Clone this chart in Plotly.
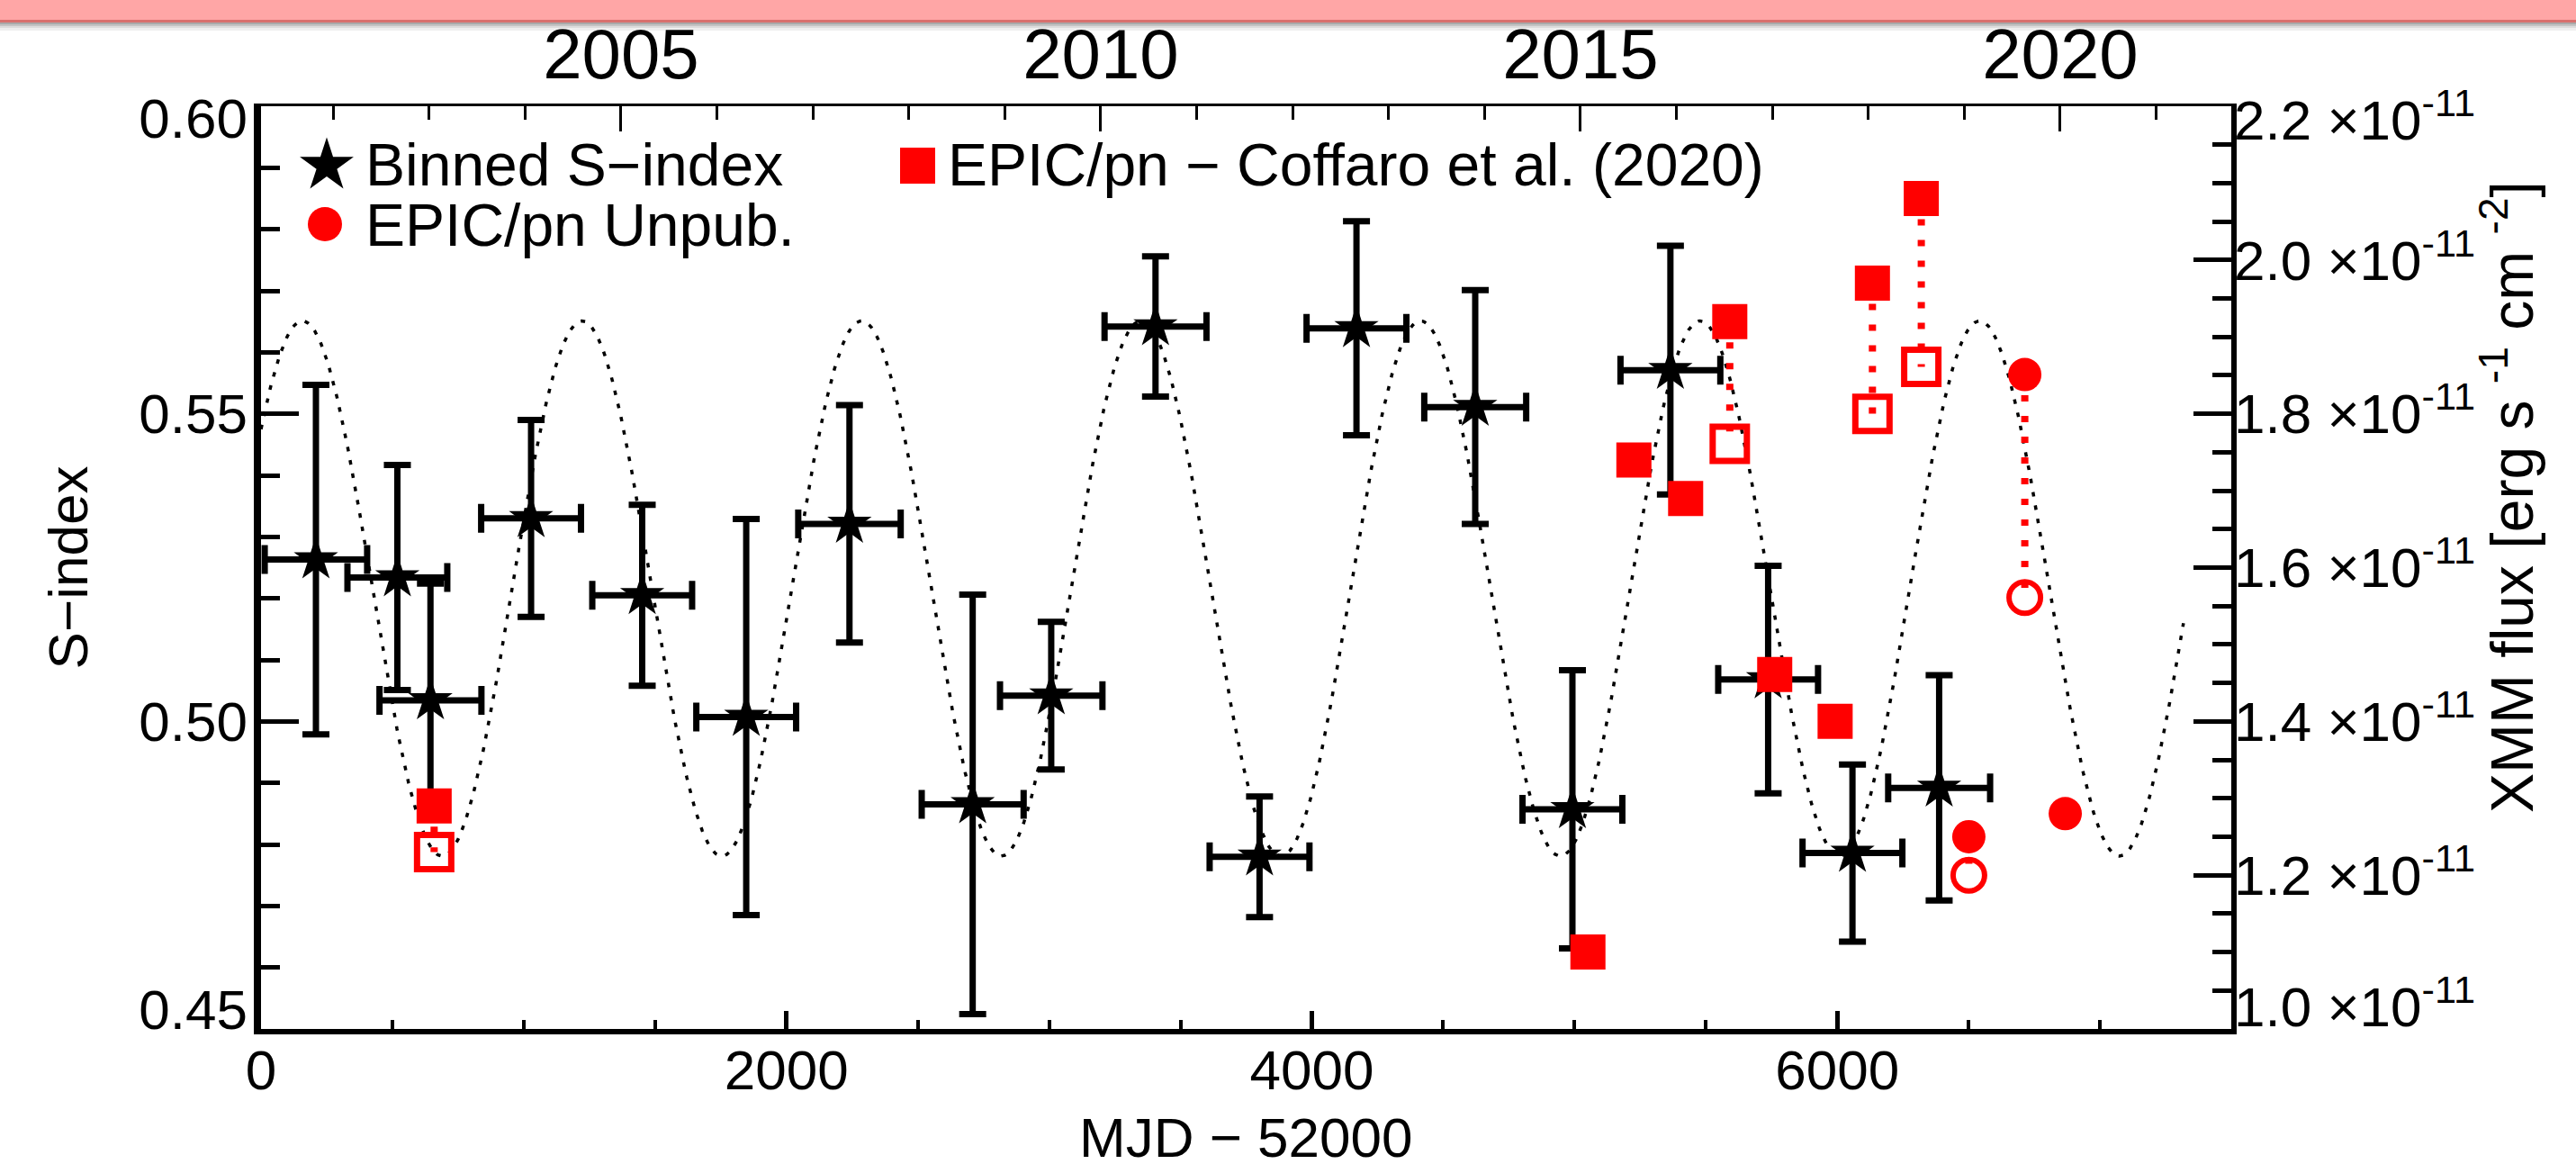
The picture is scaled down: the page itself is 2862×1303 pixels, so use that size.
import numpy as np
import plotly.graph_objects as go

# ---------------- data ----------------
# Binned S-index (left axis), x = MJD - 52000
mjd_bin = [209, 519, 645, 1028, 1451, 1847, 2240, 2709, 3008, 3405, 3801, 4170, 4622, 4992, 5365, 5737, 6058, 6388]
mjd_bin_err = [195, 190, 194, 190, 190, 190, 195, 194, 195, 194, 190, 190, 194, 190, 190, 190, 190, 194]
s_bin = [0.5263, 0.5234, 0.5034, 0.5330, 0.5205, 0.5007, 0.5321, 0.4865, 0.5042, 0.5642,
         0.4780, 0.5639, 0.5511, 0.4857, 0.5571, 0.5068, 0.4786, 0.4892]
s_bin_err = [0.0284, 0.0183, 0.0190, 0.0160, 0.0147, 0.0322, 0.0193, 0.0341, 0.0120, 0.0114,
             0.0098, 0.0174, 0.0190, 0.0226, 0.0202, 0.0185, 0.0144, 0.0183]

# EPIC/pn - Coffaro et al. (2020) (right axis, erg s^-1 cm^-2)
mjd_cof = [659, 5051, 5226, 5423, 5591, 5762, 5992, 6134, 6320]
flux_cof = [1.290e-11, 1.100e-11, 1.740e-11, 1.690e-11, 1.920e-11, 1.461e-11, 1.400e-11, 1.970e-11, 2.080e-11]
mjd_cof_open = [659, 5591, 6134, 6320]
flux_cof_open = [1.230e-11, 1.761e-11, 1.800e-11, 1.861e-11]

# EPIC/pn unpublished
mjd_unp = [6501, 6714, 6868]
flux_unp = [1.250e-11, 1.851e-11, 1.280e-11]
mjd_unp_open = [6501, 6714]
flux_unp_open = [1.200e-11, 1.561e-11]

# dotted cycle model drawn in the figure (parameters)
cyc_period = 1064.0
cyc_peak = 158.0
cyc_mean = 0.5216
cyc_amp = 0.0435
cyc_start, cyc_end = 0.0, 7318.0

# axis ticks and tick labels (end labels sit slightly inside, as in the original)
y_tickvals = [0.45, 0.50, 0.55, 0.60]
y_labelvals = [0.4532, 0.50, 0.55, 0.5980]
y_ticktext = ["0.45", "0.50", "0.55", "0.60"]
y2_tickvals = [1.0e-11, 1.2e-11, 1.4e-11, 1.6e-11, 1.8e-11, 2.0e-11, 2.2e-11]
y2_labelvals = [1.029e-11, 1.2e-11, 1.4e-11, 1.6e-11, 1.8e-11, 2.0e-11, 2.182e-11]
y2_ticktext = ["1.0 ×10<sup>-11</sup>", "1.2 ×10<sup>-11</sup>", "1.4 ×10<sup>-11</sup>",
               "1.6 ×10<sup>-11</sup>", "1.8 ×10<sup>-11</sup>", "2.0 ×10<sup>-11</sup>",
               "2.2 ×10<sup>-11</sup>"]
x_range = [0, 7500]
mjd_2000 = 51544 - 52000  # 2000-01-01 in MJD-52000
year_range = [2000 + (x_range[0] - mjd_2000) / 365.25, 2000 + (x_range[1] - mjd_2000) / 365.25]

# ---------------- geometry ----------------
W, H = 2862, 1303
L, R, T, B = 290, 383, 118, 160
PW, PH = W - L - R, H - T - B
FONT = "Liberation Sans, Arial, sans-serif"


def px2paper_x(px):
    return (px - L) / PW


def px2paper_y(py):
    return (H - B - py) / PH


RED = "#ff0000"

fig = go.Figure()

# dotted cycle curve
tc = np.linspace(cyc_start, cyc_end, 1500)
sc = cyc_mean + cyc_amp * np.cos(2 * np.pi * (tc - cyc_peak) / cyc_period)
fig.add_trace(go.Scatter(x=tc, y=sc, mode="lines", line=dict(color="black", width=3.5, dash="5px,10px"),
                         hoverinfo="skip", name="cycle"))

# binned S-index
fig.add_trace(go.Scatter(
    x=mjd_bin, y=s_bin, mode="markers", name="Binned S−index",
    marker=dict(symbol="star", size=37, color="black", line=dict(width=0)),
    error_x=dict(type="data", array=mjd_bin_err, visible=True, color="black", thickness=7, width=16),
    error_y=dict(type="data", array=s_bin_err, visible=True, color="black", thickness=7, width=15),
))

# connectors (dotted red) between filled and open points
cof_map = dict(zip(mjd_cof, flux_cof))
unp_map = dict(zip(mjd_unp, flux_unp))
cx, cy = [], []
for m, f in zip(mjd_cof_open, flux_cof_open):
    cx += [m, m, None]
    cy += [cof_map[m], f, None]
for m, f in zip(mjd_unp_open, flux_unp_open):
    cx += [m, m, None]
    cy += [unp_map[m], f, None]
fig.add_trace(go.Scatter(x=cx, y=cy, yaxis="y2", mode="lines", line=dict(color=RED, width=8, dash="7px,16px"),
                         hoverinfo="skip", name="link"))

fig.add_trace(go.Scatter(x=mjd_cof_open, y=flux_cof_open, yaxis="y2", mode="markers", name="Coffaro (open)",
                         marker=dict(symbol="square-open", size=38, color=RED, line=dict(width=7, color=RED))))
fig.add_trace(go.Scatter(x=mjd_unp_open, y=flux_unp_open, yaxis="y2", mode="markers", name="Unpub. (open)",
                         marker=dict(symbol="circle-open", size=35, color=RED, line=dict(width=6, color=RED))))
fig.add_trace(go.Scatter(x=mjd_cof, y=flux_cof, yaxis="y2", mode="markers", name="EPIC/pn − Coffaro et al. (2020)",
                         marker=dict(symbol="square", size=39, color=RED, line=dict(width=0))))
fig.add_trace(go.Scatter(x=mjd_unp, y=flux_unp, yaxis="y2", mode="markers", name="EPIC/pn Unpub.",
                         marker=dict(symbol="circle", size=37, color=RED, line=dict(width=0))))
# register the top (calendar-year) axis and the two tick-label axes
fig.add_trace(go.Scatter(x=[], y=[], xaxis="x2", yaxis="y", mode="markers", hoverinfo="skip", name="years"))
fig.add_trace(go.Scatter(x=[], y=[], xaxis="x", yaxis="y3", mode="markers", hoverinfo="skip", name="ylab"))
fig.add_trace(go.Scatter(x=[], y=[], xaxis="x", yaxis="y4", mode="markers", hoverinfo="skip", name="y2lab"))

tf = dict(family=FONT, size=62, color="black")
axcommon = dict(showgrid=False, zeroline=False, showline=True, linecolor="black", ticks="inside",
                tickcolor="black", tickfont=tf)
labaxis = dict(showgrid=False, zeroline=False, showline=False, ticks="", tickfont=tf, tickmode="array")

fig.update_layout(
    width=W, height=H,
    margin=dict(l=L, r=R, t=T, b=B, autoexpand=False),
    paper_bgcolor="white", plot_bgcolor="white",
    showlegend=False,
    font=dict(family=FONT, color="black"),
    xaxis=dict(range=x_range, dtick=2000, tick0=0, ticklen=20, tickwidth=5, linewidth=6,
               minor=dict(dtick=500, tick0=0, ticklen=10, tickwidth=4, ticks="inside", tickcolor="black"),
               ticklabelstandoff=-13, **axcommon),
    xaxis2=dict(overlaying="x", side="top", anchor="y", range=year_range, dtick=5, tick0=2000,
                ticklen=28, tickwidth=3, linewidth=3,
                minor=dict(dtick=1, tick0=2000, ticklen=15, tickwidth=2.5, ticks="inside", tickcolor="black"),
                ticklabelstandoff=-3,
                **{**axcommon, "tickfont": dict(family=FONT, size=78, color="black")}),
    yaxis=dict(range=[0.45, 0.60], tickmode="array", tickvals=y_tickvals, showticklabels=False,
               ticklen=42, tickwidth=5, linewidth=8,
               minor=dict(dtick=0.01, tick0=0.45, ticklen=21, tickwidth=5, ticks="inside", tickcolor="black"),
               **axcommon),
    yaxis3=dict(overlaying="y", side="left", anchor="x", range=[0.45, 0.60],
                tickvals=y_labelvals, ticktext=y_ticktext, ticklabelstandoff=14,
                title=dict(text="S−index", font=dict(family=FONT, size=62), standoff=36), **labaxis),
    yaxis2=dict(overlaying="y", side="right", anchor="x", range=[1.0e-11, 2.2e-11],
                tickmode="array", tickvals=y2_tickvals, showticklabels=False,
                ticklen=42, tickwidth=5, linewidth=6,
                minor=dict(tickmode="array", tickvals=list(np.arange(1.05, 2.2, 0.05) * 1e-11),
                           ticklen=21, tickwidth=5, ticks="inside", tickcolor="black"),
                **axcommon),
    yaxis4=dict(overlaying="y", side="right", anchor="x", range=[1.0e-11, 2.2e-11],
                tickvals=y2_labelvals, ticktext=y2_ticktext, ticklabelstandoff=2, **labaxis),
)

# x-axis title, placed as in the original
fig.add_annotation(text="MJD − 52000", x=0.5, y=px2paper_y(1263), xref="paper", yref="paper",
                   showarrow=False, xanchor="center", yanchor="middle",
                   font=dict(family=FONT, size=62, color="black"))
# right axis title (placed as in the original)
fig.add_annotation(text="XMM flux [erg s <sup>-1</sup> cm <sup>-2</sup>]", textangle=-90,
                   x=px2paper_x(2786), y=px2paper_y(552), xref="paper", yref="paper",
                   showarrow=False, xanchor="center", yanchor="middle",
                   font=dict(family=FONT, size=66, color="black"))

# ---------------- legend drawn by hand ----------------
leg_font = dict(family=FONT, size=66, color="black")
fig.add_annotation(text="Binned S−index", x=px2paper_x(404), y=px2paper_y(183), xref="paper", yref="paper",
                   showarrow=False, xanchor="left", yanchor="middle", font=leg_font)
fig.add_annotation(text="EPIC/pn Unpub.", x=px2paper_x(404), y=px2paper_y(250), xref="paper", yref="paper",
                   showarrow=False, xanchor="left", yanchor="middle", font=leg_font)
fig.add_annotation(text="EPIC/pn − Coffaro et al. (2020)", x=px2paper_x(1051), y=px2paper_y(183),
                   xref="paper", yref="paper", showarrow=False, xanchor="left", yanchor="middle", font=leg_font)

# star key
Rs, rs = 31.5, 12.0
pts = []
for k in range(10):
    ang = np.pi / 2 + k * np.pi / 5
    rad = Rs if k % 2 == 0 else rs
    pts.append((rad * np.cos(ang), rad * np.sin(ang)))
star_path = "M " + " L ".join(f"{x:.2f},{y:.2f}" for x, y in pts) + " Z"
shapes = [
    dict(type="path", path=star_path, xref="paper", yref="paper", xsizemode="pixel", ysizemode="pixel",
         xanchor=px2paper_x(363), yanchor=px2paper_y(184), fillcolor="black", line=dict(width=0)),
    dict(type="circle", xref="paper", yref="paper", xsizemode="pixel", ysizemode="pixel",
         xanchor=px2paper_x(361), yanchor=px2paper_y(249), x0=-19, x1=19, y0=-19, y1=19,
         fillcolor=RED, line=dict(width=0)),
    dict(type="rect", xref="paper", yref="paper", xsizemode="pixel", ysizemode="pixel",
         xanchor=px2paper_x(1019.5), yanchor=px2paper_y(184), x0=-19.5, x1=19.5, y0=-20, y1=20,
         fillcolor=RED, line=dict(width=0)),
]

# header band at the top of the page
band = [(0, 22, "#ffa6a6"), (22, 25, "#d9706e"), (25, 27, "#a9a9a9"), (27, 29, "#c4c4c4"),
        (29, 31, "#dcdcdc"), (31, 34, "#efefef")]
for y0, y1, col in band:
    shapes.append(dict(type="rect", xref="paper", yref="paper", layer="below",
                       x0=px2paper_x(0), x1=px2paper_x(W), y0=px2paper_y(y1), y1=px2paper_y(y0),
                       fillcolor=col, line=dict(width=0)))
fig.update_layout(shapes=shapes)

fig.write_html("out.html")
